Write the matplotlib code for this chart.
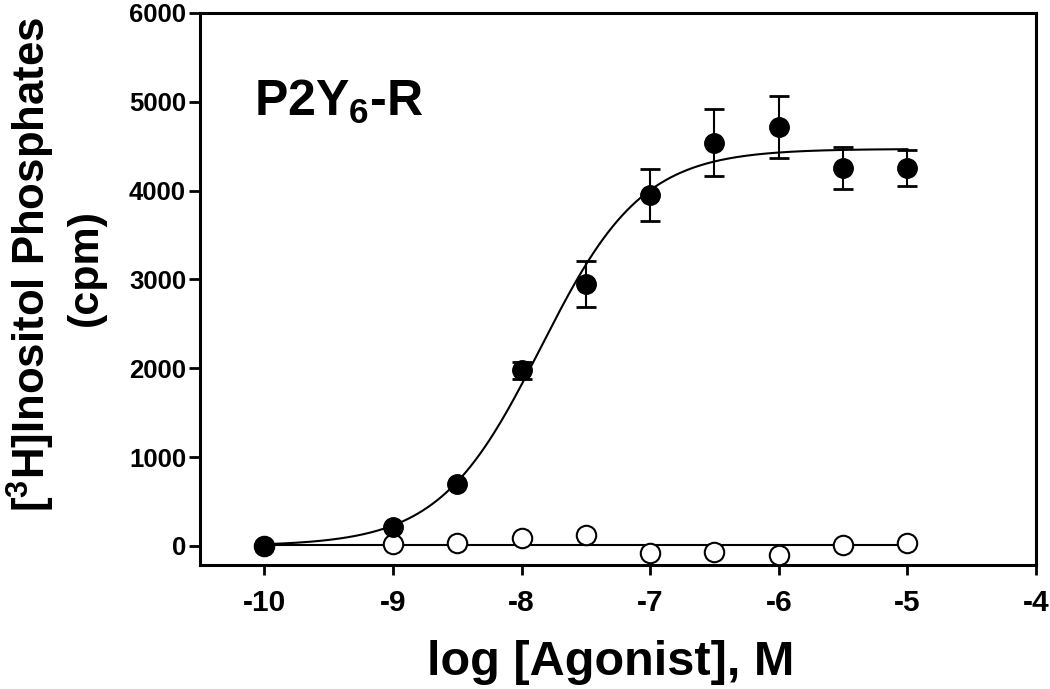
import numpy as np
import matplotlib
matplotlib.use("Agg")
import matplotlib.pyplot as plt

plt.rcParams['font.family'] = ['Liberation Sans', 'DejaVu Sans']
plt.rcParams['font.weight'] = 'bold'
plt.rcParams['mathtext.fontset'] = 'custom'
plt.rcParams['mathtext.rm'] = 'Liberation Sans:bold'
plt.rcParams['mathtext.bf'] = 'Liberation Sans:bold'
plt.rcParams['mathtext.default'] = 'bf'

log_conc = [-10, -9, -8.5, -8, -7.5, -7, -6.5, -6, -5.5, -5]
filled_y = [0, 214, 700, 1975, 2950, 3950, 4540, 4715, 4255, 4255]
filled_err = [0, 0, 0, 100, 260, 290, 380, 350, 235, 200]
open_y = [0, 20, 35, 90, 125, -80, -70, -100, 10, 30]

# Sigmoid fit parameters (filled) and flat fit (open)
fit_bottom, fit_top, fit_logec50, fit_hill = 0, 4470, -7.85, 1.1

x_ticks = [-10, -9, -8, -7, -6, -5, -4]
y_ticks = [0, 1000, 2000, 3000, 4000, 5000, 6000]

W, H = 1050, 689
fig = plt.figure(figsize=(W / 100, H / 100), dpi=100)
ax = fig.add_axes([200 / W, 1 - 565 / H, 836 / W, 552 / H])

xs = np.linspace(min(log_conc), max(log_conc), 400)
curve = fit_bottom + (fit_top - fit_bottom) / (1 + 10 ** ((fit_logec50 - xs) * fit_hill))
ax.plot(xs, curve, color='black', lw=1.5, zorder=2)
ax.plot(xs, np.full_like(xs, np.mean(open_y)), color='black', lw=1.5, zorder=2)

ax.plot(log_conc, open_y, 'o', ms=14, mfc='white', mec='black', mew=1.5, zorder=3)

lc = np.array(log_conc, dtype=float)
fy = np.array(filled_y, dtype=float)
fe = np.array(filled_err, dtype=float)
has_err = fe > 0
ax.errorbar(lc[has_err], fy[has_err], yerr=fe[has_err], fmt='none', ecolor='black',
            elinewidth=1.5, capsize=7, capthick=2, zorder=4)
ax.plot(lc, fy, 'o', ms=14, mfc='black', mec='black', zorder=5)

ax.set_xlim(-10.5, -4)
ax.set_ylim(-215, 6000)
ax.set_xticks(x_ticks)
ax.set_yticks(y_ticks)
ax.set_xticklabels([str(t) for t in x_ticks], fontsize=21.5, fontweight='bold')
ax.set_yticklabels([str(t) for t in y_ticks], fontsize=18.5, fontweight='bold')
ax.tick_params(axis='both', direction='out', width=2, color='black')
ax.tick_params(axis='x', length=7, pad=10)
ax.tick_params(axis='y', length=8, pad=2)
for s in ax.spines.values():
    s.set_linewidth(2.2)

# x label
fig.text(611 / W, 1 - 675 / H, 'log [Agonist], M', fontsize=35, fontweight='bold',
         ha='center', va='baseline')
# y label (two lines)
fig.text(31 / W, 1 - 264 / H, '[$^{3}$H]Inositol Phosphates', fontsize=31.5,
         fontweight='bold', rotation=90, ha='center', va='center')
fig.text(86 / W, 1 - 268 / H, '(cpm)', fontsize=31, fontweight='bold',
         rotation=90, ha='center', va='center')
# panel title
fig.text(254 / W, 1 - 116 / H, 'P2Y$_{6}$-R', fontsize=36, fontweight='bold',
         ha='left', va='baseline')

fig.savefig('out.png', dpi=100)
